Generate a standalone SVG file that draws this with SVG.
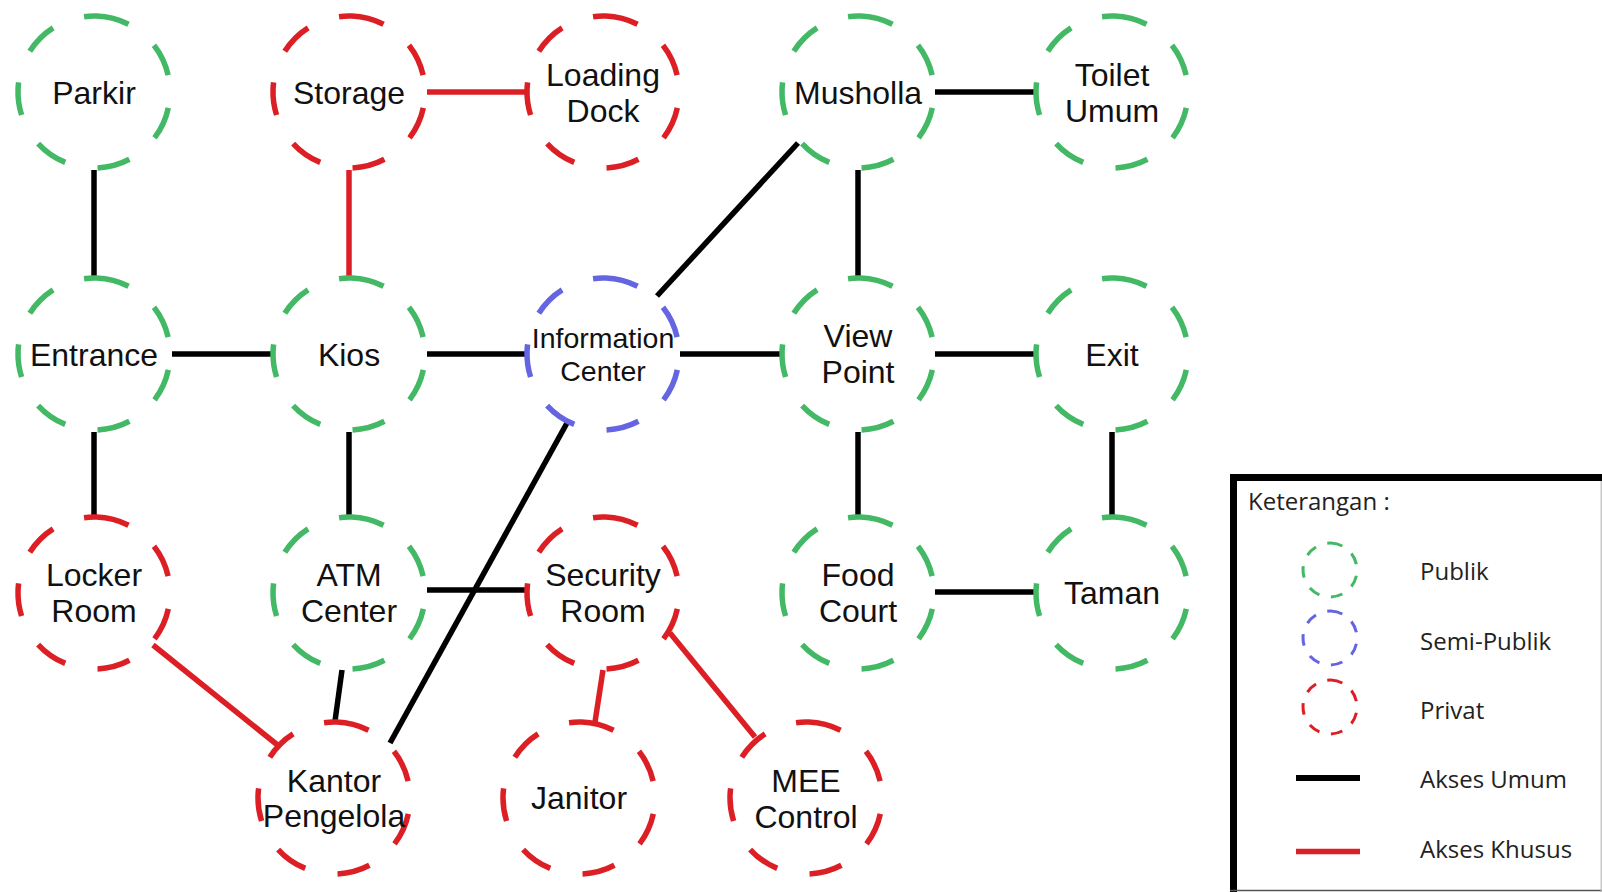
<svg xmlns="http://www.w3.org/2000/svg" width="1602" height="892" viewBox="0 0 1602 892">
  <defs>
    <style>
      .ring { fill: none; stroke-width: 5.5; stroke-dasharray: 33.2 33.1; }
      .mini { fill: none; stroke-width: 3; stroke-dasharray: 11.8 11.8; }
      .pub { stroke: #43b865; }
      .semi { stroke: #6565e2; }
      .priv { stroke: #dc1f24; }
      .lbl { font-family: "Liberation Sans", Arial, sans-serif; font-size: 32px; fill: #111; text-anchor: middle; }
      .lbl-s { font-size: 28.5px; }
      .umum { stroke: #000; stroke-width: 5.5; fill: none; }
      .khusus { stroke: #dc1f24; stroke-width: 5.5; fill: none; }
      .leg { font-family: "Open Sans", "Noto Sans", sans-serif; font-size: 24px; fill: #222; }
    </style>
  </defs>

  <rect x="0" y="0" width="1602" height="892" fill="#fff"/>

  <!-- connectors -->
  <g id="connectors">
    <g class="umum">
      <path d="M94 170 V277"/>
      <path d="M935 92 H1037"/>
      <path d="M798 143 L657 296"/>
      <path d="M858 170 V277"/>
      <path d="M172 354 H273"/>
      <path d="M427 354 H527"/>
      <path d="M680 354 H781"/>
      <path d="M935 354 H1037"/>
      <path d="M94 432 V516"/>
      <path d="M349 432 V516"/>
      <path d="M858 432 V516"/>
      <path d="M1112 432 V516"/>
      <path d="M935 592 H1037"/>
      <path d="M427 590 H527"/>
      <path d="M567 423 L390 743"/>
      <path d="M342 670 L335 721"/>
    </g>
    <g class="khusus">
      <path d="M349 170 V277"/>
      <path d="M427 92 H527"/>
      <path d="M153 645 L280 747"/>
      <path d="M603 670 L595 722"/>
      <path d="M670 633 L755 737"/>
    </g>
  </g>

  <!-- row 1 -->
  <g id="parkir" transform="translate(94,92)">
    <circle class="ring pub" r="76" transform="rotate(272)"/>
    <text class="lbl" y="12">Parkir</text>
  </g>
  <g id="storage" transform="translate(349,92)">
    <circle class="ring priv" r="76" transform="rotate(272)"/>
    <text class="lbl" y="12">Storage</text>
  </g>
  <g id="loading-dock" transform="translate(603,92)">
    <circle class="ring priv" r="76" transform="rotate(272)"/>
    <text class="lbl"><tspan x="0" y="-6">Loading</tspan><tspan x="0" y="30">Dock</tspan></text>
  </g>
  <g id="musholla" transform="translate(858,92)">
    <circle class="ring pub" r="76" transform="rotate(272)"/>
    <text class="lbl" y="12">Musholla</text>
  </g>
  <g id="toilet-umum" transform="translate(1112,92)">
    <circle class="ring pub" r="76" transform="rotate(272)"/>
    <text class="lbl"><tspan x="0" y="-6">Toilet</tspan><tspan x="0" y="30">Umum</tspan></text>
  </g>

  <!-- row 2 -->
  <g id="entrance" transform="translate(94,354)">
    <circle class="ring pub" r="76" transform="rotate(272)"/>
    <text class="lbl" y="12">Entrance</text>
  </g>
  <g id="kios" transform="translate(349,354)">
    <circle class="ring pub" r="76" transform="rotate(272)"/>
    <text class="lbl" y="12">Kios</text>
  </g>
  <g id="information-center" transform="translate(603,354)">
    <circle class="ring semi" r="76" transform="rotate(272)"/>
    <text class="lbl lbl-s"><tspan x="0" y="-6">Information</tspan><tspan x="0" y="27">Center</tspan></text>
  </g>
  <g id="view-point" transform="translate(858,354)">
    <circle class="ring pub" r="76" transform="rotate(272)"/>
    <text class="lbl"><tspan x="0" y="-7">View</tspan><tspan x="0" y="29">Point</tspan></text>
  </g>
  <g id="exit" transform="translate(1112,354)">
    <circle class="ring pub" r="76" transform="rotate(272)"/>
    <text class="lbl" y="12">Exit</text>
  </g>

  <!-- row 3 -->
  <g id="locker-room" transform="translate(94,593)">
    <circle class="ring priv" r="76" transform="rotate(272)"/>
    <text class="lbl"><tspan x="0" y="-7">Locker</tspan><tspan x="0" y="29">Room</tspan></text>
  </g>
  <g id="atm-center" transform="translate(349,593)">
    <circle class="ring pub" r="76" transform="rotate(272)"/>
    <text class="lbl"><tspan x="0" y="-7">ATM</tspan><tspan x="0" y="29">Center</tspan></text>
  </g>
  <g id="security-room" transform="translate(603,593)">
    <circle class="ring priv" r="76" transform="rotate(272)"/>
    <text class="lbl"><tspan x="0" y="-7">Security</tspan><tspan x="0" y="29">Room</tspan></text>
  </g>
  <g id="food-court" transform="translate(858,593)">
    <circle class="ring pub" r="76" transform="rotate(272)"/>
    <text class="lbl"><tspan x="0" y="-7">Food</tspan><tspan x="0" y="29">Court</tspan></text>
  </g>
  <g id="taman" transform="translate(1112,593)">
    <circle class="ring pub" r="76" transform="rotate(272)"/>
    <text class="lbl" y="11">Taman</text>
  </g>

  <!-- row 4 -->
  <g id="kantor-pengelola" transform="translate(334,798)">
    <circle class="ring priv" r="76" transform="rotate(272)"/>
    <text class="lbl"><tspan x="0" y="-6">Kantor</tspan><tspan x="0" y="29">Pengelola</tspan></text>
  </g>
  <g id="janitor" transform="translate(579,798)">
    <circle class="ring priv" r="76" transform="rotate(272)"/>
    <text class="lbl" y="11">Janitor</text>
  </g>
  <g id="mee-control" transform="translate(806,798)">
    <circle class="ring priv" r="76" transform="rotate(272)"/>
    <text class="lbl"><tspan x="0" y="-6">MEE</tspan><tspan x="0" y="30">Control</tspan></text>
  </g>

  <!-- legend -->
  <g id="legend">
    <rect x="1233.5" y="477.5" width="420" height="460" fill="#fff" stroke="#000" stroke-width="7"/>
    <line x1="1230" y1="890.5" x2="1602" y2="890.5" stroke="#555" stroke-width="1.5"/>
    <line x1="1601.2" y1="481" x2="1601.2" y2="892" stroke="#bbb" stroke-width="1.2"/>
    <text class="leg" x="1248" y="510">Keterangan :</text>
    <circle class="mini pub" cx="1330" cy="570" r="27" transform="rotate(272 1330 570)"/>
    <text class="leg" x="1420" y="580">Publik</text>
    <circle class="mini semi" cx="1330" cy="638" r="27" transform="rotate(272 1330 638)"/>
    <text class="leg" x="1420" y="650">Semi-Publik</text>
    <circle class="mini priv" cx="1330" cy="707" r="27" transform="rotate(272 1330 707)"/>
    <text class="leg" x="1420" y="719">Privat</text>
    <line x1="1296" y1="778" x2="1360" y2="778" stroke="#000" stroke-width="6"/>
    <text class="leg" x="1420" y="788">Akses Umum</text>
    <line x1="1296" y1="851.5" x2="1360" y2="851.5" stroke="#dc1f24" stroke-width="5.5"/>
    <text class="leg" x="1420" y="858">Akses Khusus</text>
  </g>
</svg>
